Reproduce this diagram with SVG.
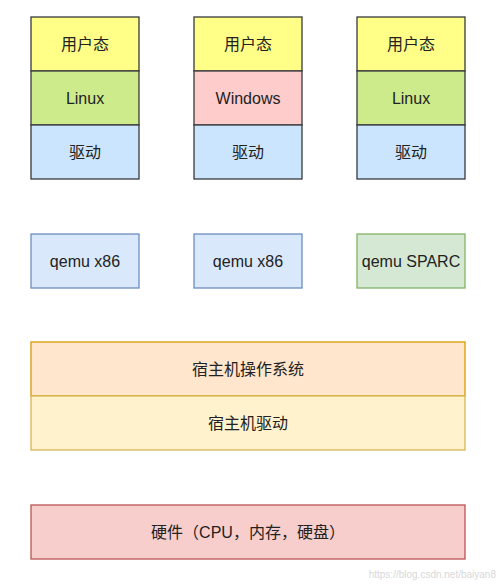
<svg xmlns="http://www.w3.org/2000/svg" width="500" height="584" viewBox="0 0 500 584">
<style>
text{font-family:"Liberation Sans","Noto Sans CJK SC",sans-serif;font-size:16px;fill:#222;text-anchor:middle;dominant-baseline:central}
.b{stroke-width:1.3}
.u{fill:#ffff88;stroke:#36393d}
.lx{fill:#cdeb8b;stroke:#36393d}
.w{fill:#ffcccc;stroke:#36393d}
.d{fill:#cce5ff;stroke:#36393d}
.q{fill:#dae8fc;stroke:#6c8ebf}
.s{fill:#d5e8d4;stroke:#82b366}
.ho{fill:#ffe6cc;stroke:#d79b00}
.hd{fill:#fff2cc;stroke:#d6b656}
.hw{fill:#f8cecc;stroke:#b85450}
.wm{font-size:10px;fill:#d8d8d8;text-anchor:end}
</style>
<g id="vm1">
<rect class="b u" x="31" y="17" width="108" height="54"/><text x="85" y="44">用户态</text>
<rect class="b lx" x="31" y="71" width="108" height="54"/><text x="85" y="98">Linux</text>
<rect class="b d" x="31" y="125" width="108" height="54"/><text x="85" y="152">驱动</text>
</g>
<g id="vm2">
<rect class="b u" x="194" y="17" width="108" height="54"/><text x="248" y="44">用户态</text>
<rect class="b w" x="194" y="71" width="108" height="54"/><text x="248" y="98">Windows</text>
<rect class="b d" x="194" y="125" width="108" height="54"/><text x="248" y="152">驱动</text>
</g>
<g id="vm3">
<rect class="b u" x="357" y="17" width="108" height="54"/><text x="411" y="44">用户态</text>
<rect class="b lx" x="357" y="71" width="108" height="54"/><text x="411" y="98">Linux</text>
<rect class="b d" x="357" y="125" width="108" height="54"/><text x="411" y="152">驱动</text>
</g>
<g id="qemu1"><rect class="b q" x="31" y="234" width="108" height="54"/><text x="85" y="261">qemu x86</text></g>
<g id="qemu2"><rect class="b q" x="194" y="234" width="108" height="54"/><text x="248" y="261">qemu x86</text></g>
<g id="qemu3"><rect class="b s" x="357" y="234" width="108" height="54"/><text x="411" y="261">qemu SPARC</text></g>
<g id="host">
<rect class="b ho" x="31" y="342" width="434" height="54"/><text x="248" y="369">宿主机操作系统</text>
<rect class="b hd" x="31" y="396" width="434" height="54"/><text x="248" y="423">宿主机驱动</text>
</g>
<g id="hardware"><rect class="b hw" x="31" y="505" width="434" height="54"/><text x="248" y="532">硬件（CPU，内存，硬盘）</text></g>
<g id="connectors"></g>
<text class="wm" x="496" y="574">https://blog.csdn.net/baiyan8</text>
</svg>
